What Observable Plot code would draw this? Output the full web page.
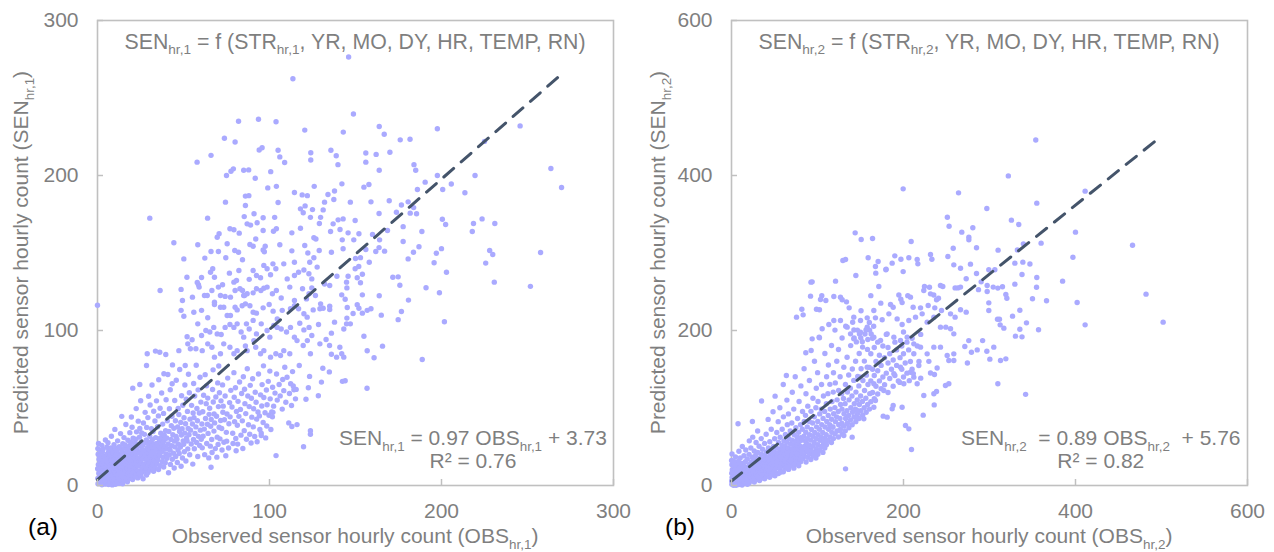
<!DOCTYPE html>
<html><head><meta charset="utf-8">
<script src="https://cdn.jsdelivr.net/npm/d3@7"></script>
<script src="https://cdn.jsdelivr.net/npm/@observablehq/plot@0.6"></script>
<style>
body{margin:0;background:#fff;}
#wrap{display:flex;width:1274px;height:552px;overflow:hidden;}
svg text{white-space:pre;}
</style></head><body><div id="wrap"></div>
<script>
// ---------- Panel (a) data: [observed, predicted] ----------
const aTop = [[146,276.5],[113.6,262.4],[148.8,239.7],[82,235],[93.6,236.3],[103.8,234.7],[120.5,229.3],[142.9,228],[163.8,231.6],[166.7,226.6],[197.6,230.2],[245.7,232],[73.8,224],[80,221.6],[176,223],[181.7,223.4],[225,222],[94,216.5],[95.7,217.9],[105,216.3],[66,213],[135.7,216.3],[138.8,212.7],[124,214.7],[124,210],[156,214.5],[162,213.6],[170,215],[106,212],[108.8,208.4],[57.9,208.6],[139.8,207],[156,208.6],[184,207],[185,203.4],[163.8,203.4],[197.6,200],[219.5,200],[263.6,204.5],[75,200],[77.6,202.7],[79,204.3],[85,203.4],[87.9,203.6],[91.7,198.2],[100.7,202.5]];
const aRight = [[269.8,192.3],[186,191],[190.5,195.7],[200.7,191],[205.7,194.5],[213.6,188.9],[183.8,179.3],[185.5,175.3],[188.6,163.9],[200.5,171.8],[202.4,168.4],[218.6,169],[223.6,172],[231,169],[217.9,163.9],[186.9,154],[183.7,150.5],[200,152.8],[197,149.8],[228,151.6],[229.8,149],[257.6,150.3],[225.7,143.5],[195.7,143.7],[202.9,137.6],[191,127.6],[198.8,124.4],[230.7,131.2],[251.7,128.5],[201.7,105.6],[188.8,81.3]];
const aLow = [[156.7,62.7],[144,67.6],[142.4,67.2],[134.8,73.3],[131,75.6],[130.2,66.7],[123.3,70.4],[122.6,63.1],[113.8,64.2],[115.5,62],[111.2,40.4],[113,38.1],[116,39.3],[123.8,35.4],[123.8,33.1],[119.8,25],[103.8,19.3],[95.2,32.2],[66,11.8],[101.7,44.3],[102,47.2]];
const aMidRight = [[154.9,192.5],[157.8,194.2],[142.1,194.6],[134,187.7],[137.8,190],[137.4,184.5],[132,182.8],[147,182.8],[159,183],[169.6,183.7],[176.7,181],[180.6,183],[181.8,175.7],[173.8,176.3],[163.7,175.5],[149.8,171],[142.8,172],[139.9,171.4],[137,168.8],[131.2,177.8],[135.5,163.9],[141,165.2],[145.7,163],[149,158.5],[152,162.4],[159.9,162],[168.6,164.5],[177.7,167],[164,158.5],[142.3,158.5],[142.8,152.7],[136,150.5],[156,152.3],[161.8,151],[163.7,153.5],[166.9,151.2],[180.6,146.2],[177.7,157.4],[150,146.5],[152.9,147],[149.8,139.8],[151.9,141.3],[154,136.3],[151,134],[152.9,130.8],[158,144],[145.7,135],[144.8,131.2],[145,127.5],[139.2,135],[135,129],[132,130],[142,123],[144,120.2],[145.2,114.8],[151,116.6],[152,114.4],[154,123],[156.8,113],[159,114],[154,111.2],[163.8,122.4],[165,109.9],[171.7,134.4],[174.8,134.6],[175.8,129.2],[180.8,119.6],[176.7,112.3],[174.8,107],[131.2,114.4],[135,115.7],[135,113.5],[137.8,105.4],[143.2,101],[144.8,104.3],[147,104.3],[148.6,111],[145,108],[132.9,94.2],[134.9,90.3],[136,98.3],[136,84.7],[140.9,89.2],[139,82.8],[142,85],[143.2,82.8],[154.9,96.3],[156.8,86.9],[160.8,82.4],[165.7,89.9]];
const aMidLeft = [[99,192],[104,193],[114.5,189],[119,187.5],[122,187],[126,193],[86,186.7],[88,187],
[74.4,182.8],[86,180.6],[105,182.6],[118,178.5],[119.6,176],[120.7,180.4],[123.8,173],[125,178],[129.7,173],[129,169],[64,172.5],[30.4,172.5],[85.3,173.5],[91,175.3],[96.3,172.7],[103,173],[92.8,169.5],[89,168],[87,168.8],
[70.7,162.4],[69.6,160.2],[77,165.6],[79.3,165],[82.4,162.8],[96.3,164.5],[102.3,164],[104,165.6],[113,163],[118,166],[125.8,159.8],[127,159],
[44.4,156.6],[58.3,155.3],[50.2,146.2],[62.4,146.7],[66,151],[70.3,151],[74.6,146.9],[75.4,156],[79.8,151.6],[82,150.5],[84.3,145.6],[88.6,155.5],[90.5,154.4],[92,159],[96.3,152],[97,150.8],[97.5,154.4],[102,143],[106,155.3],[113,151.4],[114.5,144],[120.5,154.8],[122.3,150],[123.4,144],[125.8,146.9],[128.9,151.6],
[36.4,125.8],[52,134.4],[58,131],[58.7,129.5],[60.5,134.2],[62.2,122.6],[65.7,137.6],[67,139.8],[68,134.4],[70.3,128],[72.7,129.5],[76.7,137],[79.3,131.2],[80.8,132.3],[82.2,138.7],[84.3,125.8],[85.5,122.6],[88.2,133],[90.5,138.7],[92.4,135.5],[94.8,134],[96.7,142],[98.6,139.8],[100.6,136],[103.7,139.8],[108.3,143],[110.3,133.3],[114.5,135.5],[116.9,137.6],[120,139],[122.9,136.6],[124.6,133.3],[127.7,140.9],
[48.6,126.5],[49.4,119.4],[55.2,121.5],[59.1,128],[63.8,122.6],[66.5,125.8],[68,118.3],[71.5,122.6],[74.2,122],[77.3,121.5],[80,125.8],[82.8,126.9],[85,122.6],[87,123.7],[90.5,124.3],[92.4,126.9],[95,125.8],[96.7,127.3],[98.6,128],[101.7,123.7],[104,125.8],[106.8,121],[111.8,128],[114.5,119.4],[119.2,126.9],[121.5,120.4],[123,123.7],[124.6,127.5],[126.7,122.6],[129.7,117.2],
[0,116.3],[48.6,113],[50.2,109.2],[56,111.8],[60.5,113],[64.1,108.2],[68,116.8],[71.5,115],[73.4,115],[75.4,109.7],[77.3,109.7],[80,115],[81.2,113.3],[84.1,116],[86,117.2],[88.6,116],[90.5,111.8],[92.4,111.2],[96.3,114.6],[99.8,116.8],[102.1,112.5],[104.5,107.5],[107.4,113],[112.2,114],[114.5,116],[116.9,114],[120,110.8],[121.9,108.6],[125.4,113.3],[129.3,114],
[52.1,96],[55,94],[58.3,104.3],[60.5,96.8],[63,100],[65.3,99],[67.6,102],[69.6,97.8],[71.9,97.4],[74.2,102],[77,103.9],[79.3,102],[81.2,104.3],[83.5,99],[85,95.7],[86.6,104.3],[88.2,101],[90.5,106.5],[92.4,97.8],[95.2,104.3],[98.6,100],[100.2,95.7],[102.5,103.2],[104.5,102],[106.8,101],[109.9,99],[112.2,102],[114.5,95.7],[117.6,104.7],[120,100.4],[123,102],[124.6,96.8],[128.5,103.9],
[28.9,85],[33.7,86.7],[36.2,86],[39.7,84.5],[47.3,87],[52.5,91.4],[54,88.2],[57.2,88.2],[60.9,87],[64.1,91.4],[66.5,89.2],[68,82.8],[71.5,85],[73.4,91.4],[77,89.2],[79.3,85],[81.2,87],[86,90],[87,87],[90.9,93.5],[92,89.2],[94.8,85],[96.7,87],[100.6,82.8],[103.7,85],[106.4,83.9],[108.3,87],[111.8,85],[116,93.5],[119.6,90.3],[122,93.5],[123.8,85],[129.3,91.4]];
const aDense = [[0.3,1.2],[0.2,4.6],[0.8,7.9],[0.1,10.8],[0.5,13.5],[0.9,16.9],[0.4,20.2],[0.2,23.8],[0.6,27.1],[1.4,2.8],[1.7,6.1],[1.2,9.4],[1.9,12.7],[1.5,15.8],[1.1,19.3],[1.8,22.6],[2.6,0.5],[2.3,3.9],[2.9,7.2],[2.4,10.6],[2.7,14.1],[2.2,17.5],[2.8,21.4],[2.5,25.9],[3.4,1.8],[3.9,5.3],[3.1,8.8],[3.6,12.2],[3.3,15.6],[3.8,19.1],[3.2,23.3],[4.5,0.9],[4.2,4.4],[4.8,7.7],[4.4,11.3],[4.9,14.8],[4.1,18.2],[4.6,29.4],[5.3,2.6],[5.7,6.2],[5.1,9.7],[5.6,13.1],[5.2,16.6],[5.8,20.5],[5.4,24.7],
[6.4,0.6],[6.9,4.1],[6.2,7.5],[6.7,10.9],[6.3,14.4],[6.8,17.8],[6.5,21.9],[6.1,27.6],[7.5,1.9],[7.2,5.6],[7.8,9.1],[7.4,12.6],[7.9,16.1],[7.3,19.8],[7.7,24.2],[8.6,0.4],[8.3,3.7],[8.9,7.3],[8.2,10.5],[8.7,14.2],[8.4,18.4],[8.8,22.5],[8.1,31.8],[9.5,2.3],[9.1,6.0],[9.7,9.6],[9.3,13.4],[9.8,17.2],[9.2,20.9],[9.6,26.3],[10.4,0.8],[10.9,4.5],[10.2,8.3],[10.7,11.8],[10.3,15.3],[10.8,19.6],[10.5,23.9],[10.1,36.2],[11.6,2.9],[11.2,6.7],[11.8,10.2],[11.4,14.0],[11.9,18.0],[11.3,22.3],[11.7,28.8],[12.5,1.4],[12.1,5.1],[12.8,8.9],[12.4,12.8],[12.9,16.6],[12.2,20.4],[12.6,25.1],[13.7,3.6],[13.3,7.4],[13.9,11.1],[13.5,15.0],[13.1,19.2],[13.8,23.7],[13.4,33.5],
[14.6,1.1],[14.2,5.8],[14.9,9.8],[14.4,13.7],[14.8,17.9],[14.3,22.1],[14.7,27.0],[14.1,44.6],[15.5,3.2],[15.9,7.6],[15.3,11.5],[15.7,15.4],[15.2,19.8],[15.8,24.4],[15.4,30.9],[16.6,5.1],[16.2,9.3],[16.8,13.2],[16.4,17.3],[16.9,21.5],[16.1,26.2],[16.5,39.4],[17.4,2.4],[17.8,6.9],[17.2,11.0],[17.6,15.1],[17.9,19.4],[17.3,23.6],[17.7,29.2],[18.5,4.7],[18.1,8.6],[18.7,12.5],[18.3,16.7],[18.9,20.8],[18.4,25.3],[18.8,34.1],[19.6,6.3],[19.2,10.4],[19.8,14.3],[19.4,18.6],[19.9,22.9],[19.3,27.7],[19.7,44.2],[20.4,3.8],[20.8,8.0],[20.2,12.1],[20.6,16.2],[20.9,20.3],[20.3,24.8],[20.7,30.5],[20.1,37.6],[20.5,62.8],[21.7,5.7],[21.3,9.9],[21.9,13.9],[21.5,18.1],[21.1,22.4],[21.8,27.3],[22.6,7.1],[22.2,11.3],[22.8,15.6],[22.4,19.7],[22.9,24.1],[22.3,29.8],[22.7,34.6],[22.5,49.6],[23.4,4.9],[23.8,9.2],[23.2,13.3],[23.6,17.4],[23.9,21.8],[23.3,26.4],[23.7,41.5],[24.5,8.3],[24.1,12.6],[24.7,16.8],[24.3,21.0],[24.8,25.7],[24.4,31.2],[24.6,36.8],[24.6,65.2],
[25.3,6.2],[25.8,10.5],[25.2,14.6],[25.6,18.9],[25.9,23.4],[25.4,28.1],[25.7,33.9],[25.1,54.7],[26.5,4.3],[26.2,8.7],[26.8,12.9],[26.4,17.1],[26.9,21.3],[26.3,26.0],[26.7,40.3],[27.6,9.6],[27.2,13.8],[27.8,18.2],[27.4,22.6],[27.9,27.5],[27.3,33.0],[27.7,47.2],[28.5,6.8],[28.1,11.2],[28.7,15.5],[28.3,19.9],[28.9,24.3],[28.4,29.4],[28.6,37.5],[28.5,77.4],[29.4,8.4],[29.8,12.7],[29.2,16.9],[29.6,21.2],[29.9,25.8],[29.3,43.8],[29.7,57.6],[30.5,10.1],[30.1,14.4],[30.7,18.6],[30.3,23.1],[30.8,27.9],[30.4,31.8],[30.6,51.9],[31.4,12.3],[31.8,16.4],[31.2,20.7],[31.6,25.2],[31.9,29.6],[31.3,36.7],[31.7,64.8],[32.6,9.2],[32.2,13.6],[32.8,17.8],[32.4,22.2],[32.9,26.7],[32.3,34.8],[32.7,47.9],[33.5,11.4],[33.1,15.7],[33.7,19.8],[33.3,24.6],[33.8,30.9],[33.4,41.6],[34.6,13.9],[34.2,18.3],[34.8,22.7],[34.4,27.2],[34.9,37.9],[34.3,54.6],[35.5,10.3],[35.1,16.6],[35.7,21.1],[35.3,25.6],[35.8,30.2],[35.4,44.9],[35.6,68.2],[36.5,12.8],[36.1,19.4],[36.7,24.0],[36.3,28.5],[36.8,33.7],[36.4,49.8],[37.6,15.3],[37.2,21.6],[37.8,26.3],[37.4,31.0],[37.9,39.6],[37.3,59.7],[38.5,11.9],[38.1,18.1],[38.7,23.4],[38.3,28.2],[38.8,32.6],[38.4,46.5],[38.6,72.1],[39.4,14.7],[39.8,20.4],[39.2,25.3],[39.6,35.4],[39.9,55.3],[39.3,29.8],
[40.4,17.6],[40.8,23.7],[40.2,30.6],[40.6,41.7],[40.9,71.6],[41.3,8.2],[41.7,19.7],[41.1,26.8],[41.5,34.9],[41.8,49.5],[42.4,13.6],[42.2,22.8],[42.7,29.7],[42.9,38.6],[42.3,61.8],[43.5,16.9],[43.1,25.6],[43.8,32.7],[43.3,44.7],[43.6,77.8],[43.4,65.6],[44.6,11.3],[44.2,20.8],[44.8,28.6],[44.4,36.9],[44.9,54.8],[45.5,18.7],[45.1,24.9],[45.7,31.6],[45.3,41.8],[45.8,67.9],[46.4,14.8],[46.8,22.9],[46.2,29.8],[46.6,37.7],[46.9,49.7],[47.5,20.6],[47.1,26.7],[47.7,34.8],[47.3,45.8],[47.8,74.8],[48.6,12.4],[48.2,24.8],[48.8,32.6],[48.4,40.7],[48.9,57.9],[49.4,17.7],[49.8,28.8],[49.2,36.6],[49.6,51.8],[50.5,21.8],[50.1,26.6],[50.7,33.8],[50.3,43.7],[50.8,64.8],[51.4,15.8],[51.8,30.7],[51.2,39.8],[51.6,55.7],[51,77.4],[52.5,23.6],[52.1,28.7],[52.7,36.8],[52.3,47.8],[52.9,71.8],[53.6,19.8],[53.2,32.8],[53.8,42.8],[53.4,59.8],[54.5,26.8],[54.1,35.7],[54.7,51.7],[55.4,13.8],[55.8,29.7],[55.2,39.7],[55.6,46.8],[55.9,65.8],[56.3,23.7],[56.7,33.6],[56.1,43.8],[56.5,57.7],[57.6,27.7],[57.2,37.8],[57.8,49.7],[57.4,77.6],[58.3,18.7],[58.7,31.7],[58.1,41.8],[58.5,61.7],[59.4,25.8],[59.8,35.7],[59.2,46.8],[59.6,69.8],[60.3,29.8],[60.7,39.7],[60.1,53.8]];
const aFill = [[60.9,24.3],[61.4,31.8],[61.2,47.6],[61.7,58.2],[62.3,19.9],[62.8,43.2],[62.1,36.4],[62.6,71.5],[63.5,27.1],[63.2,52.8],[63.9,39.5],[63.4,64.3],[64.7,17.8],[64.3,33.6],[64.9,45.9],[64.1,56.4],[65.6,25.4],[65.2,49.8],[65.8,38.2],[66.4,29.7],[66.9,61.9],[66.1,42.6],[66.6,21.3],[67.7,35.1],[67.3,53.9],[67.8,46.2],[67.2,74.6],[68.5,23.8],[68.1,40.4],[68.8,57.1],[69.6,31.2],[69.2,44.7],[69.9,66.2],[69.4,18.3],[70.3,50.9],[70.7,37.6],[70.1,26.5],[70.9,59.8],[70.5,77.1],[71.6,41.9],[71.2,30.1],[71.8,54.6],[72.4,22.9],[72.9,47.3],[72.2,36.8],[72.7,64.9],[73.5,27.9],[73.1,51.2],[73.8,42.4],[74.6,19.2],[74.2,57.7],[74.9,34.3],[75.3,46.1],[75.7,69.3],[75.1,28.6],[76.4,39.8],[76.8,53.5],[76.2,24.2],[77.5,61.4],[77.1,44.3],[78.6,33.7],[78.2,50.6],[78.8,27.1],[79.3,72.8],[79.7,41.2],[79.5,56.9],[80.4,30.3],[80.8,47.8],[80.2,63.1],[80.6,22.4],
[81.3,38.9],[81.7,54.3],[81.5,26.7],[82.6,66.8],[82.2,44.6],[83.4,32.5],[83.8,59.4],[83.1,49.1],[84.5,23.9],[84.2,41.7],[84.8,70.2],[85.3,35.4],[85.7,52.8],[85.5,62.1],[86.6,29.8],[86.2,46.4],[87.4,57.7],[87.8,39.2],[87.1,75.3],[88.5,33.1],[88.2,50.9],[88.8,64.6],[89.3,27.4],[89.7,44.1],[89.5,56.3],[90.6,37.8],[90.2,68.9],[90.8,49.5],[91.4,31.6],[91.7,60.2],[92.5,42.8],[92.2,53.7],[92.8,28.2],[93.3,47.4],[93.6,71.9],[94.4,36.2],[94.8,58.5],[94.1,44.9],[95.5,51.3],[95.2,33.8],[95.7,65.1],[96.3,40.6],[96.7,56.8],[96.5,77.2],[97.4,46.9],[97.8,30.7],[98.2,61.6],[98.6,52.1],[98.4,38.4],[99.3,67.2],[99.7,45.3],[100.4,55.9],[100.8,36.1],[100.2,73.8],
[101.3,47.5],[101.8,63.4],[102.4,51.2],[103.2,59.6],[104.5,55.1],[104.1,71.9],[105.6,65.2],[106.2,57.8],[107.4,49.3],[107.7,68.4],[108.3,61.2],[108.9,76.3],[109.5,53.7],[110.2,69.8],[111.6,59.4],[112.3,65.7],[112.8,51.6],[113.4,73.5],[114.2,61.8],[115.1,55.9],[117.3,77.4],[121.2,55.6],[128.4,57.9]];

// ---------- Panel (b) data: [observed, predicted] ----------
const bTop = [[353.8,445.9],[321.9,399.5],[342,117.6],[235.7,104],[274.3,158],[220,138.5],[211.4,144.4],[195.7,133],[206.7,135.3]];
const bMidLeft = [[199.6,382.8],[264,377.6],[251,346.2],[253,334.6],[143.8,326],[150.8,317.4],[164,318.7],[208.9,314.8],[257.8,306.2],[251.6,295.5],[258.5,284.7],[231.4,298],[233,292],[215.9,291.6],[216.7,286],[206.2,293.8],[197,292],[189.9,296.3],[186.8,286.9],[179.5,278.3],[170.5,289],[167.4,282.6],[158.9,293.8],[167.8,274],[171.3,256.8],[179.8,279.1],[199.6,276],[129.5,290.3],[132.6,291.6],[144.6,271],[121,263.7],[93.8,262.8],[126.7,243],[128.7,239.6],[133.7,237],[136.8,229.2],[119,243.9],[105,244.8],[103.5,240],[109.7,238.7],[91.9,244.3],[102.3,226.7],[98.8,227.5],[81.8,227.5],[83.3,220.2],[75.6,217.2],[162,245],[165.5,225.8],[173.6,235.3],[184.9,233.5],[188,230],[194.6,245.8],[196.9,240.4],[198.4,236],[205,245],[208.1,243],[211.2,230],[219.8,229.2],[228.7,232.3],[236.4,229.2],[238.4,239.6],[240.7,241.7],[223.6,251.6],[224.4,256.8],[230.2,255.9],[231.4,247.3],[243,258],[245.7,256.8],[235.2,245.8],[244.2,225.8],[260,255],[263.2,255],[260,217.2],[254.7,221.5],[142.2,217.2],[150,212.9],[157.8,216.3],[167.4,216.3],[175.2,213.8],[183,221.5],[192.6,215],[198.4,207.7],[206.2,212.9],[214,217.2],[221.7,221.5],[227.5,210.8],[235.3,217.2],[243,204.3],[249.2,204.3],[254.7,202.2],[258.5,195.7],[86.4,171.2],[92.6,174.2],[93.8,189.2],[101.9,191.4],[105.4,202.2],[113.2,207.7],[119,212.9],[126.7,212.9],[134.5,204.3],[138.4,195.7],[142.2,189.2],[150,197.8],[157.8,204.3],[165.5,191.4],[173.3,187.1],[181,195.7],[188.8,191.4],[196.5,187.1],[204.3,191.4],[212,182.8],[219.8,178.5],[227.5,169.9],[235.3,178.5],[243,178.5],[250.8,167.7],[258.5,169.9]];
const bMidRight = [[411.2,379.8],[355,364.3],[296.9,357.4],[325.5,342.4],[334,336.8],[400,326.9],[466.3,310],[280.6,332.5],[267.8,326.9],[276,320.4],[276,317],[284.9,306.7],[310,303.7],[332.4,304],[339.4,311.8],[360,312.7],[397,294.6],[266.3,280.4],[277.9,285.6],[284.9,273.5],[299.2,278.3],[306.2,278.3],[329.5,286.9],[338.8,288.2],[347,285.8],[337.8,272.3],[329.5,259.8],[355,268.4],[354.7,255.9],[385,263.7],[482,246.9],[272.9,266.7],[290.3,262.8],[297.3,258],[297.3,250.3],[304.3,256],[309.7,254.7],[315.1,256.4],[287.2,252.7],[266.3,256],[319,246.5],[320.2,241.7],[350,240.9],[366.3,238.3],[401.9,236.1],[299.2,235.7],[299.2,225.8],[272.9,223.7],[266.3,226.7],[326.8,218.5],[335.3,226.2],[309.3,214.6],[311.6,214.6],[312.4,207.3],[316.7,203],[343,209.9],[335.3,201.7],[357,201],[330.2,192.7],[337.8,191.8],[411.2,207.3],[501.9,210.8],[275.9,187],[271.3,179.4],[292,187],[285.7,175],[296.9,173.3],[305,178.5],[279,172],[300.4,163],[312.8,161.3],[319,163.4]];
const bLow = [[209.3,46.5],[206.2,73.1],[202.3,77.4],[222.9,90.8],[132.6,21.5],[235.3,118.3],[238.4,121.3],[252.7,131.2],[248.8,129],[236,143.2],[231.4,145.2],[239.1,151.6],[229.5,160.2],[252.7,161.3],[258.5,161.3],[309.7,131.2],[198.4,101],[188,103.2],[186.8,98.9],[176.4,89.5],[181,88.2],[165.5,101],[167.4,109.7],[153.9,86],[144.2,88.2],[146.1,96.8],[134.5,79.6],[130.6,64.5],[140.3,62.4],[126,71],[117,75.3],[107.4,49.5],[99.6,43],[95.7,38.7],[111.2,58],[88,45.2],[80.2,34.4],[76.4,40.9],[68.6,32.3],[64.7,23.7],[57,17.2],[200.4,131.2],[212,139.8],[217.8,154.8],[157.8,152.7],[150,139.8],[165.5,131.2],[177.1,122.6],[188.8,144.1],[196.5,152.7],[208.1,146.2],[215.9,131.2],[223.6,116.1]];
const bDense = [[0.4,1.6],[0.2,5.9],[0.7,10.4],[0.3,15.8],[0.9,20.3],[0.5,26.7],[0.1,32.2],[0.6,40.8],[2.3,0.4],[2.1,4.8],[2.6,8.7],[2.8,14.6],[2.4,18.5],[2.9,24.9],[3.2,30.7],[4.4,1.9],[4.1,7.5],[4.7,11.6],[4.3,17.9],[4.8,22.4],[4.6,36.8],[5.3,0.3],[6.2,3.6],[6.6,9.8],[6.1,13.7],[6.8,19.9],[6.4,27.2],[7.6,79.6],[8.3,1.2],[8.1,6.4],[8.7,11.9],[8.4,15.6],[8.9,22.8],[8.2,31.3],[8.6,44.2],[10.5,3.4],[10.2,7.6],[10.8,13.4],[10.4,17.7],[10.9,25.5],[10.1,35.6],[12.3,0.6],[12.7,5.5],[12.1,9.6],[12.9,15.3],[12.5,21.7],[12.2,28.4],[12.6,50.3],[14.4,2.7],[14.1,7.2],[14.8,12.6],[14.3,18.3],[14.9,24.6],[14.5,38.4],[16.2,4.5],[16.7,9.3],[16.4,14.7],[16.9,20.5],[16.1,30.6],[16.6,45.8],[18.5,1.5],[18.2,6.6],[18.8,11.2],[18.3,17.5],[18.7,23.6],[18.4,34.2],[20.3,3.3],[20.8,8.6],[20.2,13.8],[20.6,19.1],[20.9,27.3],[20.4,40.2],[20.7,57.6],
[22.4,5.7],[22.1,11.6],[22.7,16.2],[22.3,22.7],[22.9,30.5],[22.5,48.3],[24.6,8.4],[24.2,14.3],[24.8,20.8],[24.4,26.1],[24.1,36.5],[24.7,62.4],[24.3,82.6],[26.5,4.6],[26.1,11.3],[26.8,17.6],[26.3,24.5],[26.9,32.8],[26.4,44.6],[28.2,7.7],[28.7,14.1],[28.4,21.6],[28.9,28.3],[28.1,38.7],[28.6,55.4],[30.3,10.6],[30.8,17.2],[30.5,24.8],[30.1,31.4],[30.7,42.5],[30.4,70.3],[32.6,6.4],[32.2,13.7],[32.9,20.4],[32.4,27.6],[32.7,35.2],[32.1,50.6],[34.5,9.3],[34.1,16.8],[34.8,23.1],[34.3,30.7],[34.9,40.4],[34.6,60.5],[35,109],[36.2,12.8],[36.7,19.3],[36.4,26.8],[36.9,34.1],[36.1,46.7],[38.5,8.6],[38.2,15.4],[38.8,22.7],[38.3,29.5],[38.7,38.6],[38.4,54.3],[40.6,11.5],[40.1,18.6],[40.9,25.3],[40.4,32.9],[40.7,43.4],[40.3,66.2],[42.5,14.6],[42.2,21.4],[42.8,28.7],[42.3,36.2],[42.9,48.4],[42.6,85.3],[44.4,10.7],[44.1,17.5],[44.7,24.2],[44.3,31.8],[44.9,40.6],[44.5,56.4],[46.3,13.4],[46.8,20.7],[46.5,27.4],[46.1,35.8],[46.7,45.3],[46.2,72.6],[48.6,16.3],[48.2,23.8],[48.9,30.5],[48.4,38.7],[48.7,50.4],[48.3,95.2],[50.5,12.6],[50.1,19.4],[50.8,26.7],[50.3,34.5],[50.6,42.8],[50.2,60.4],[50.7,115.3],
[52.3,22.7],[52.8,30.4],[52.5,38.6],[52.1,48.7],[52.7,68.4],[54.6,15.4],[54.2,26.5],[54.9,34.7],[54.4,42.3],[54.7,55.6],[54.3,82.4],[56.5,20.6],[56.1,29.7],[56.8,37.5],[56.3,46.8],[56.6,62.3],[56.2,100.4],[58.4,24.8],[58.8,32.6],[58.2,41.5],[58.6,51.7],[58.9,72.5],[60.3,17.7],[60.7,28.3],[60.1,36.6],[60.5,45.7],[60.9,57.4],[60.4,88.6],[60.2,130.4],[62.6,22.5],[62.2,31.8],[62.8,40.4],[62.4,50.6],[62.7,65.8],[63.8,142],[64.5,26.4],[64.1,35.7],[64.7,44.6],[64.3,55.7],[64.9,78.5],[64.4,110.2],[66.3,20.8],[66.8,30.6],[66.5,39.7],[66.1,48.5],[66.6,60.7],[66.2,92.4],[68.4,25.7],[68.9,34.4],[68.2,43.7],[68.7,53.6],[68.3,70.5],[70.6,29.4],[70.2,38.7],[70.8,47.6],[70.4,58.5],[70.1,80.7],[70.7,120.3],[72.5,22.4],[72.1,33.6],[72.7,42.5],[72.3,52.7],[72.9,65.4],[72.4,98.6],[74.3,27.5],[74.8,37.4],[74.2,46.6],[74.6,57.3],[74.9,74.6],[74.1,140.3],[76.5,31.6],[76.1,41.4],[76.7,51.7],[76.3,62.6],[76.8,86.4],[78.2,25.4],[78.7,35.6],[78.4,45.4],[78.9,56.7],[78.1,68.6],[78.6,108.4],[80.4,30.5],[80.8,40.7],[80.2,50.4],[80.6,61.6],[80.3,78.4],[80.7,128.5],
[82.5,34.6],[82.1,46.4],[82.8,58.5],[82.3,72.6],[82.6,95.4],[84.3,38.6],[84.8,50.4],[84.2,63.7],[84.6,82.5],[84.4,150.6],[86.7,30.4],[86.2,43.6],[86.9,55.4],[86.4,68.7],[86.1,90.5],[86.6,118.4],[88.3,36.5],[88.8,48.6],[88.4,60.5],[88.1,75.6],[88.7,102.4],[90.5,40.7],[90.2,52.4],[90.8,65.6],[90.4,82.5],[90.6,135.4],[92.3,33.6],[92.7,45.3],[92.1,58.6],[92.9,72.4],[92.4,95.7],[92.4,262.4],[94.6,38.4],[94.2,50.7],[94.8,63.4],[94.3,80.6],[94.7,112.5],[96.4,42.6],[96.1,55.5],[96.8,68.4],[96.3,88.6],[96.5,160.4],[98.2,35.5],[98.7,47.6],[98.4,60.4],[98.9,75.7],[98.1,100.4],[98.6,125.5],[100.5,40.4],[100.2,52.6],[100.8,65.5],[100.3,82.7],[100.6,108.4],[100.1,145.6],[102.4,45.5],[102.8,58.3],[102.2,72.6],[102.6,92.4],[102.3,190.5],[104.6,50.5],[104.2,62.4],[104.9,78.6],[104.4,98.5],[104.7,130.4],[106.3,42.7],[106.8,55.4],[106.1,68.5],[106.5,86.6],[106.9,115.4],[108.5,48.4],[108.2,60.6],[108.7,75.4],[108.3,95.6],[108.6,170.4],[110.4,52.5],[110.1,65.4],[110.8,82.6],[110.3,105.5],[110.6,140.4],
[112.3,58.4],[112.8,72.6],[112.5,90.4],[112.1,118.5],[112.7,155.4],[114.6,62.5],[114.2,78.4],[114.8,98.6],[114.4,130.5],[116.2,55.4],[116.7,68.6],[116.4,85.5],[116.9,108.4],[116.3,180.6],[118.5,60.5],[118.1,75.4],[118.8,92.6],[118.3,120.5],[118.6,145.4],[120.4,66.6],[120.9,82.4],[120.2,100.5],[120.7,132.4],[120.3,200.5],[122.6,70.4],[122.2,88.6],[122.8,110.5],[122.4,160.4],[124.3,62.6],[124.7,78.5],[124.1,95.4],[124.6,122.6],[124.4,175.5],[126.5,72.4],[126.2,86.6],[126.8,104.5],[126.3,140.4],[128.7,66.5],[128.2,80.4],[128.5,98.6],[128.1,118.5],[128.6,190.4],[130.4,76.6],[130.8,92.5],[130.2,112.4],[130.6,152.5],[132.3,70.5],[132.7,86.4],[132.1,105.6],[132.5,130.4],[132.8,205.5],[134.6,80.4],[134.2,96.6],[134.8,120.5],[134.4,165.4],[136.5,74.6],[136.1,90.4],[136.7,110.5],[136.3,142.6],[138.4,84.5],[138.8,100.4],[138.2,125.6],[138.6,180.5],[140.3,78.4],[140.7,94.6],[140.1,115.5],[140.5,150.4],[140.9,210.6],[142.4,88.5],[142.8,105.4],[142.2,135.6],[142.6,190.4],[142.3,200.7],[144.5,82.4],[144.1,98.6],[144.7,120.5],[144.3,160.4],[145.2,185.3],[146.6,92.5],[146.2,110.4],[146.8,140.6],[146.4,200.5],[148.3,86.4],[148.7,104.6],[148.1,128.5],[148.5,170.4],[148.8,195.6],[150.4,96.5],[150.1,115.4],[150.7,150.6],[150.3,190.5],[150.6,225.4],[152.5,90.6],[152.2,108.5],[152.8,135.4],[152.4,178.6],[152.1,185.5],[154.3,100.4],[154.7,122.6],[154.5,160.5],[155.2,195.4],[156.6,94.5],[156.2,112.6],[156.8,142.4],[156.4,200.6],[158.3,104.5],[158.7,130.4],[158.1,175.6],[158.5,188.4],[160.4,98.6],[160.8,118.5],[160.2,152.4],[160.6,200.5],[160.3,210.4],[162.4,195.5],[165.3,205.4]];
const bFill = [[162,108],[162,135],[162,170],[164,120],[164,150],[164,190],[166,112],[166,142],[166,178],[168,128],[168,160],[170,118],[170,148],[170,185],[172,135],[172,168],[174,125],[174,155],[176,140],[176,180],[178,130],[178,165],[180,145],[180,195],[182,120],[182,158],[182,178],[184,138],[184,170],[186,150],[188,128],[188,162],[190,142],[190,185],[192,155],[192,175],[194,135],[196,165],[198,150],[198,180],[200,140],[200,170],[200,198],[202,158],[204,185],[204,145],[206,175],[208,160],[210,190],[210,150],[212,170],[216,180],[218,160],[220,195]];

const panelA = [...aDense, ...aFill, ...aMidLeft, ...aMidRight, ...aLow, ...aRight, ...aTop];
const panelB = [...bDense, ...bFill, ...bLow, ...bMidLeft, ...bMidRight, ...bTop];

// trend lines (from the fitted equations shown)
const trendA = [[0, 3.73], [270, 265.6]];
const trendB = [[0, 5.76], [500, 450.8]];
const ticksA = [0, 100, 200, 300];
const ticksB = [0, 200, 400, 600];

const FONT = "'Liberation Sans', Arial, sans-serif";
const GRAY = "#7f7f7f";

function rich(svg, parts, {x, y, anchor = "middle", size = 21, fill = GRAY, rotate = 0}) {
  const t = svg.append("text")
    .attr("transform", `translate(${x},${y})` + (rotate ? ` rotate(${rotate})` : ""))
    .attr("text-anchor", anchor)
    .attr("font-family", FONT)
    .attr("font-size", size)
    .attr("fill", fill)
    .attr("xml:space", "preserve");
  const shift = size * 0.27, subSize = size * 0.64;
  let down = false;
  for (const [s, sub] of parts) {
    const ts = t.append("tspan").text(s);
    if (sub) { ts.attr("font-size", subSize); if (!down) { ts.attr("dy", shift); down = true; } }
    else if (down) { ts.attr("dy", -shift); down = false; }
  }
  return t;
}

function makePanel({data, trend, ticks, mL, mR, tag, sub, eq, r2, eqX}) {
  const domain = [ticks[0], ticks[ticks.length - 1]];
  const plot = Plot.plot({
    width: 637, height: 552,
    marginLeft: mL, marginRight: mR, marginTop: 20, marginBottom: 67,
    x: {domain}, y: {domain},
    style: {fontFamily: FONT, color: GRAY, background: "#fff", overflow: "visible"},
    marks: [
      Plot.frame({stroke: "#c0c0c0", strokeWidth: 1.6}),
      Plot.dot(data, {x: d => d[0], y: d => d[1], r: 2.7, fill: "#aaaaff"}),
      Plot.line(trend, {x: d => d[0], y: d => d[1], stroke: "#44546a", strokeWidth: 3, strokeDasharray: "13,10"}),
      Plot.axisX(ticks, {tickSize: -6, tickFormat: () => "", stroke: "#c0c0c0", strokeWidth: 1.5, label: null}),
      Plot.axisY(ticks, {tickSize: -6, tickFormat: () => "", stroke: "#c0c0c0", strokeWidth: 1.5, label: null}),
      Plot.axisX(ticks, {tickSize: 0, tickPadding: 18, fontSize: 21, fill: GRAY, label: null}),
      Plot.axisY(ticks, {tickSize: 0, tickPadding: 19, fontSize: 21, fill: GRAY, label: null})
    ]
  });
  const svg = d3.select(plot);
  const sx = plot.scale("x"), sy = plot.scale("y");
  const xMid = (sx.apply(domain[0]) + sx.apply(domain[1])) / 2;
  const yMid = (sy.apply(domain[0]) + sy.apply(domain[1])) / 2;
  const y0 = sy.apply(0);
  rich(svg, [["SEN"], [sub, 1], [" = f (STR"], [sub, 1], [", YR, MO, DY, HR, TEMP, RN)"]], {x: xMid, y: sy.apply(domain[1]) + 28.5, size: 21.3});
  rich(svg, eq, {x: sx.apply(eqX), y: y0 - 40});
  rich(svg, [[r2]], {x: sx.apply(eqX), y: y0 - 17.5});
  rich(svg, [["Observed sensor hourly count (OBS"], [sub, 1], [")"]], {x: xMid, y: 543});
  rich(svg, [["Predicted sensor hourly count (SEN"], [sub, 1], [")"]], {x: 28, y: yMid, rotate: -90});
  rich(svg, [[tag]], {x: 28, y: 535, anchor: "start", size: 24.5, fill: "#000"});
  return plot;
}

const wrap = document.getElementById("wrap");
wrap.appendChild(makePanel({
  data: panelA, trend: trendA, ticks: ticksA, mL: 97, mR: 24, tag: "(a)", sub: "hr,1",
  eq: [["SEN"], ["hr,1", 1], [" = 0.97 OBS"], ["hr,1", 1], [" + 3.73"]], r2: "R² = 0.76", eqX: 218.6
}));
wrap.appendChild(makePanel({
  data: panelB, trend: trendB, ticks: ticksB, mL: 94, mR: 27, tag: "(b)", sub: "hr,2",
  eq: [["SEN"], ["hr,2", 1], ["  = 0.89 OBS"], ["hr,2", 1], ["  + 5.76"]], r2: "R² = 0.82", eqX: 430
}));
</script></body></html>
